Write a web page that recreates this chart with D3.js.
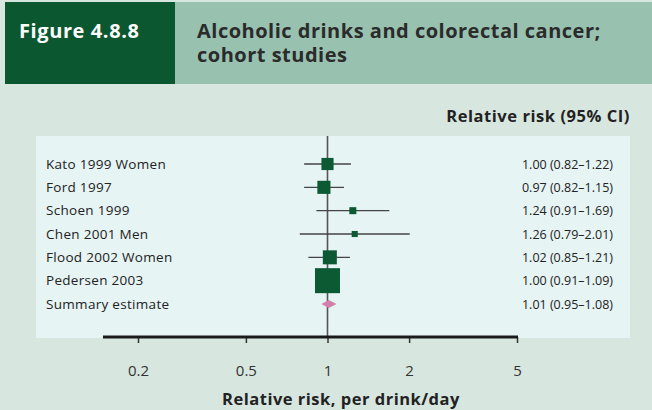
<!DOCTYPE html>
<html>
<head>
<meta charset="utf-8">
<script src="https://cdn.jsdelivr.net/npm/d3@7"></script>
<style>
  html, body { margin: 0; padding: 0; background: #d8e6e0; }
  svg { display: block; }
  text { font-family: "Open Sans", "Noto Sans", sans-serif; }
</style>
</head>
<body>
<svg id="chart" width="652" height="410"></svg>
<script>
// Study rows of the forest plot
const studies = ["Kato 1999 Women", "Ford 1997", "Schoen 1999", "Chen 2001 Men",
                 "Flood 2002 Women", "Pedersen 2003", "Summary estimate"];
const rr   = [1.00, 0.97, 1.24, 1.26, 1.02, 1.00, 1.01];
const lo   = [0.82, 0.82, 0.91, 0.79, 0.85, 0.91, 0.95];
const hi   = [1.22, 1.15, 1.69, 2.01, 1.21, 1.09, 1.08];
// Approximate study weights (%) that set the square areas
const weights = [12, 14, 4, 3, 16, 51];
const tickValues = [0.2, 0.5, 1, 2, 5];
const tickLabels = ["0.2", "0.5", "1", "2", "5"];

const svg = d3.select("#chart");
const W = 652, H = 410;

// page background
svg.append("rect").attr("width", W).attr("height", H).attr("fill", "#d8e6e0");

// header band
svg.append("rect").attr("x", 175).attr("y", 2).attr("width", W - 175).attr("height", 82).attr("fill", "#98c1af");
svg.append("rect").attr("x", 5).attr("y", 2).attr("width", 170).attr("height", 82).attr("fill", "#0b5830");
svg.append("text").attr("x", 19).attr("y", 37.5)
  .attr("font-size", 20).attr("font-weight", 700).attr("letter-spacing", 0.6).attr("fill", "#ffffff")
  .text("Figure 4.8.8");
svg.append("text").attr("x", 197).attr("y", 37.5)
  .attr("font-size", 20).attr("font-weight", 700).attr("letter-spacing", 0.5).attr("fill", "#2b2b2b")
  .text("Alcoholic drinks and colorectal cancer;");
svg.append("text").attr("x", 197).attr("y", 62)
  .attr("font-size", 20).attr("font-weight", 700).attr("letter-spacing", 0.5).attr("fill", "#2b2b2b")
  .text("cohort studies");

svg.append("text").attr("x", 630).attr("y", 121.5).attr("text-anchor", "end")
  .attr("font-size", 16.5).attr("font-weight", 700).attr("letter-spacing", 0.55).attr("fill", "#222")
  .text("Relative risk (95% CI)");

// inner panel
const panel = { x0: 36, x1: 630, y0: 136, y1: 338 };
svg.append("rect").attr("x", panel.x0).attr("y", panel.y0)
  .attr("width", panel.x1 - panel.x0).attr("height", panel.y1 - panel.y0)
  .attr("fill", "#e6f4f4");

// scales
const x = d3.scaleLog().domain([0.2, 5]).range([138, 517]);
const y = d3.scalePoint().domain(studies).range([164, 304]);
const size = d3.scaleSqrt().domain([0, 51]).range([0, 25]);

const axisY = 337;

// reference line at RR = 1
svg.append("line").attr("x1", x(1)).attr("x2", x(1))
  .attr("y1", panel.y0).attr("y2", axisY)
  .attr("stroke", "#555").attr("stroke-width", 1.6);

const rows = studies.map((s, i) => ({ s, rr: rr[i], lo: lo[i], hi: hi[i], w: weights[i] }));

// confidence intervals
svg.selectAll(".ci").data(rows.slice(0, 6)).join("line")
  .attr("x1", d => x(d.lo)).attr("x2", d => x(d.hi))
  .attr("y1", d => y(d.s)).attr("y2", d => y(d.s))
  .attr("stroke", "#444").attr("stroke-width", 1.4);

// study squares
svg.selectAll(".sq").data(rows.slice(0, 6)).join("rect")
  .attr("x", d => x(d.rr) - size(d.w) / 2)
  .attr("y", d => y(d.s) - size(d.w) / 2)
  .attr("width", d => size(d.w)).attr("height", d => size(d.w))
  .attr("fill", "#0c5a34");

// summary diamond
const sm = rows[6];
const sy = y(sm.s);
svg.append("path")
  .attr("d", `M${x(sm.lo)},${sy} L${x(sm.rr)},${sy - 4} L${x(sm.hi)},${sy} L${x(sm.rr)},${sy + 4} Z`)
  .attr("fill", "#d380a8");

// row labels
svg.selectAll(".lab").data(rows).join("text")
  .attr("x", 46).attr("y", d => y(d.s) + 4.8)
  .attr("font-size", 13.5).attr("letter-spacing", 0.3).attr("fill", "#222")
  .text(d => d.s);

// value labels
const f = d3.format(".2f");
svg.selectAll(".val").data(rows).join("text")
  .attr("x", 613).attr("y", d => y(d.s) + 4.5).attr("text-anchor", "end")
  .attr("font-size", 12.5).attr("fill", "#222")
  .text(d => `${f(d.rr)} (${f(d.lo)}\u2013${f(d.hi)})`);

// x axis
const axis = d3.axisBottom(x).tickValues(tickValues)
  .tickFormat((d, i) => tickLabels[i]).tickSize(6).tickPadding(22);
const gx = svg.append("g").attr("transform", `translate(0,${axisY})`).call(axis);
gx.select(".domain").remove();
gx.selectAll(".tick line").attr("stroke", "#333").attr("stroke-width", 1.5);
gx.selectAll(".tick text").attr("font-size", 15).attr("fill", "#333")
  .attr("font-family", "'Open Sans', sans-serif");
svg.append("line").attr("x1", 103).attr("x2", 518).attr("y1", axisY).attr("y2", axisY)
  .attr("stroke", "#1a1a1a").attr("stroke-width", 3);

svg.append("text").attr("x", 341).attr("y", 404.5).attr("text-anchor", "middle")
  .attr("font-size", 16.5).attr("font-weight", 700).attr("letter-spacing", 0.5).attr("fill", "#222")
  .text("Relative risk, per drink/day");
</script>
</body>
</html>
